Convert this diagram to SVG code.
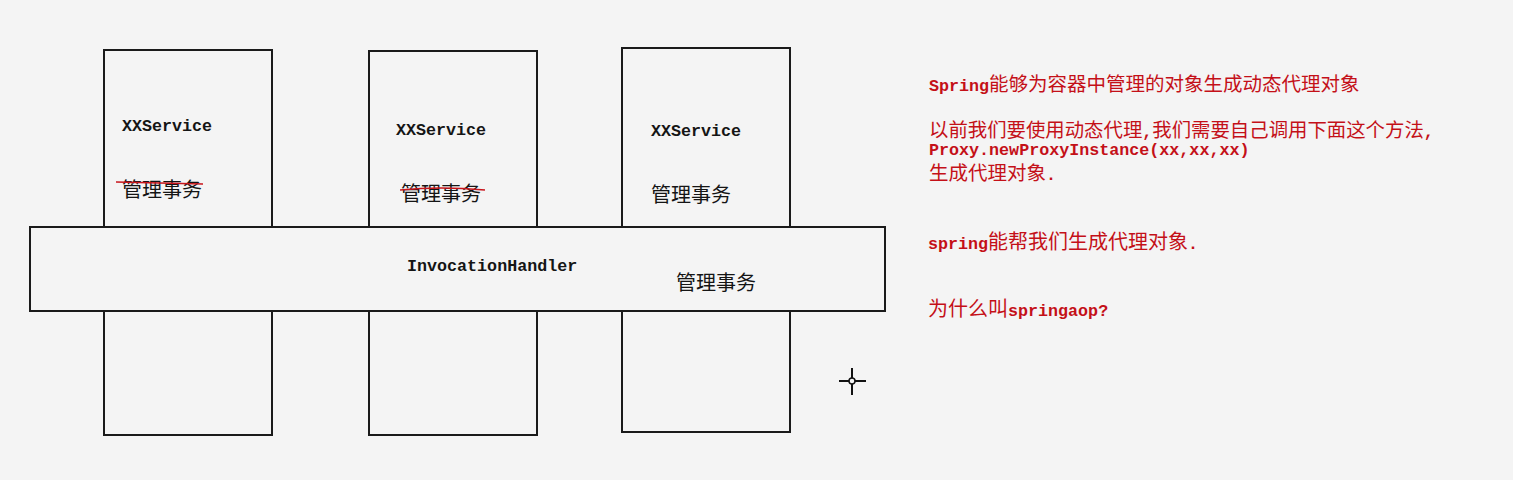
<svg xmlns="http://www.w3.org/2000/svg" width="1513" height="480" viewBox="0 0 1513 480">
<style>
.box{fill:#f4f4f4;stroke:#1a1a1a;stroke-width:2}
.mono{font-family:"Liberation Mono","DejaVu Sans Mono",monospace;font-weight:bold;font-size:16.7px}
.cjk{font-family:"Noto Sans CJK SC",sans-serif;font-weight:normal}
.blk{fill:#151515}
.red{fill:#c41018}
.strike{fill:none;stroke:#c8161d;stroke-width:1.6}
</style>
<rect x="0" y="0" width="1513" height="480" fill="#f4f4f4"/>
<g id="service1">
<rect class="box" x="104" y="50" width="168" height="385"/>
<text class="mono blk" x="122" y="131">XXService</text>
<text class="cjk blk" x="122" y="197" font-size="20">管理事务</text>
<path class="strike" d="M116 182 L203 184"/>
</g>
<g id="service2">
<rect class="box" x="369" y="51" width="168" height="384"/>
<text class="mono blk" x="396" y="135">XXService</text>
<text class="cjk blk" x="401" y="201" font-size="20">管理事务</text>
<path class="strike" d="M400 190 Q440 186 485 190"/>
</g>
<g id="service3">
<rect class="box" x="622" y="48" width="168" height="384"/>
<text class="mono blk" x="651" y="136">XXService</text>
<text class="cjk blk" x="651" y="202" font-size="20">管理事务</text>
</g>
<g id="invocationHandler">
<rect class="box" x="30" y="227" width="855" height="84"/>
<text class="mono blk" x="407" y="271">InvocationHandler</text>
<text class="cjk blk" x="676" y="290" font-size="20">管理事务</text>
</g>
<g id="connectors"></g>
<g id="notes" class="red">
<text x="929" y="91"><tspan class="mono">Spring</tspan><tspan class="cjk" font-size="19.5">能够为容器中管理的对象生成动态代理对象</tspan></text>
<text x="929" y="137"><tspan class="cjk" font-size="19.4">以前我们要使用动态代理</tspan><tspan class="mono">,</tspan><tspan class="cjk" font-size="19.4">我们需要自己调用下面这个方法</tspan><tspan class="mono">,</tspan></text>
<text class="mono" x="929" y="155">Proxy.newProxyInstance(xx,xx,xx)</text>
<text x="929" y="180"><tspan class="cjk" font-size="19.5">生成代理对象</tspan><tspan class="mono">.</tspan></text>
<text x="928" y="249"><tspan class="mono">spring</tspan><tspan class="cjk" font-size="20">能帮我们生成代理对象</tspan><tspan class="mono">.</tspan></text>
<text x="928" y="316"><tspan class="cjk" font-size="20">为什么叫</tspan><tspan class="mono">springaop?</tspan></text>
</g>
<g id="cursor" stroke="#111" stroke-width="2" fill="none">
<path d="M852 368 V378 M852 384 V395 M839 381 H849 M855 381 H866"/>
<circle cx="852" cy="381" r="3" stroke-width="1.5"/>
</g>
</svg>
